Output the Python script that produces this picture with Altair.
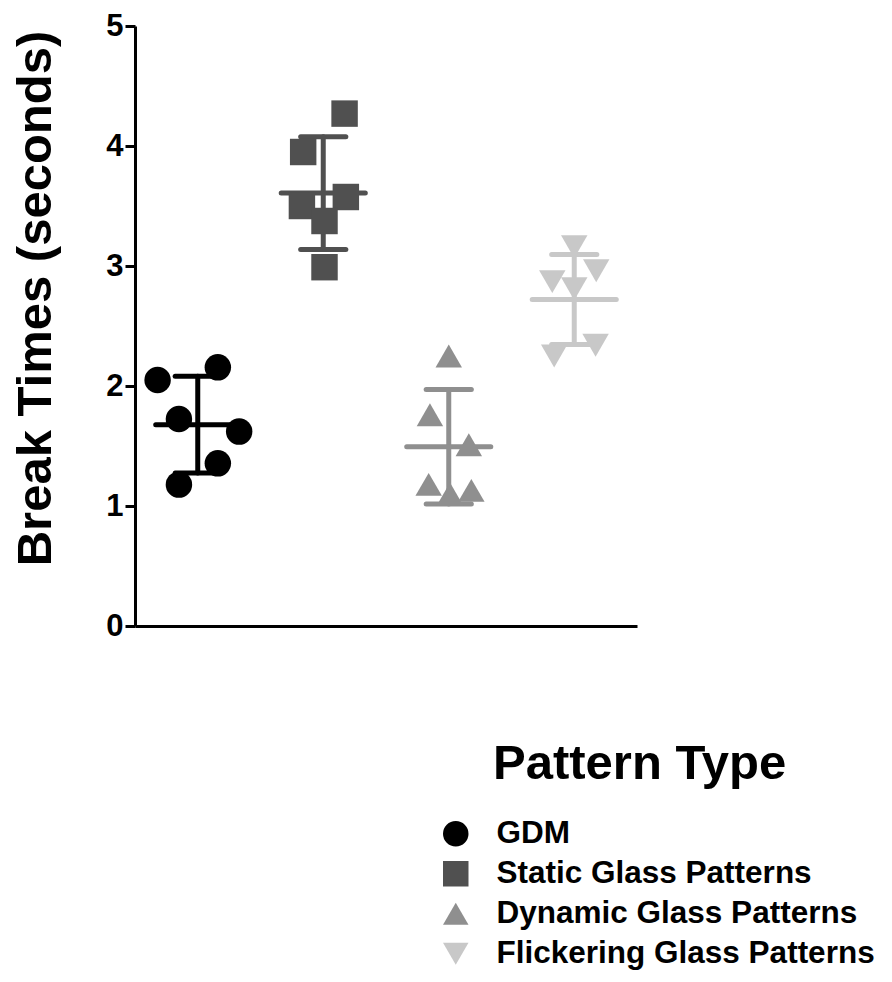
import altair as alt
import pandas as pd

groups = ["GDM", "Static Glass Patterns", "Dynamic Glass Patterns", "Flickering Glass Patterns"]
colors = ["#000000", "#505050", "#8f8f8f", "#c8c8c8"]
shapes = ["circle", "square", "triangle-up", "triangle-down"]

gdm_vals = [2.05, 2.156, 1.725, 1.62, 1.356, 1.178]
gdm_jit = [-0.32, 0.16, -0.15, 0.33, 0.16, -0.15]
static_vals = [4.27, 3.95, 3.5, 3.575, 3.375, 2.99]
static_jit = [0.17, -0.16, -0.17, 0.18, 0.01, 0.01]
dynamic_vals = [2.25, 1.76, 1.51, 1.18, 1.10, 1.13]
dynamic_jit = [0.0, -0.15, 0.16, -0.16, 0.01, 0.18]
flicker_vals = [3.16, 2.96, 2.87, 2.81, 2.34, 2.25]
flicker_jit = [0.0, 0.175, -0.175, 0.0, 0.17, -0.16]

means = [1.678, 3.608, 1.494, 2.72]
sds = [0.403, 0.47, 0.477, 0.375]
y_ticks = [0, 1, 2, 3, 4, 5]

rows = []
for gi, (vals, jit) in enumerate([(gdm_vals, gdm_jit), (static_vals, static_jit),
                                   (dynamic_vals, dynamic_jit), (flicker_vals, flicker_jit)]):
    for v, j in zip(vals, jit):
        rows.append({"group": groups[gi], "idx": gi, "value": v, "jit": j})
pts = pd.DataFrame(rows)

summ = pd.DataFrame({"group": groups, "idx": list(range(4)), "mean": means, "sd": sds})

FONT = "Liberation Sans"
xscale = alt.Scale(domain=[0, 4], nice=False, zero=False)
yscale = alt.Scale(domain=[0, 5], nice=False)
cscale = alt.Scale(domain=groups, range=colors)
sscale = alt.Scale(domain=groups, range=shapes)

xaxis = alt.Axis(labels=False, ticks=False, grid=False, title=None)
yaxis = alt.Axis(values=y_ticks, format="d", grid=False, title="Break Times (seconds)",
                 titleX=-100, titleY=272, titleAngle=270, titleBaseline="middle", titleAlign="center")

legend = alt.Legend(title=None, orient="none", legendX=305, legendY=792, padding=0,
                    labelFont=FONT, labelFontSize=31.5, labelFontWeight="bold", labelColor="black",
                    symbolSize=650, symbolStrokeWidth=0, labelOffset=25, rowPadding=7,
                    symbolOpacity=1, labelLimit=500)

base = alt.Chart(summ).transform_calculate(
    c="datum.idx + 0.5", lo="datum.mean - datum.sd", hi="datum.mean + datum.sd",
    ml="datum.idx + 0.5 - 0.335", mr="datum.idx + 0.5 + 0.335",
    cl="datum.idx + 0.5 - 0.18", cr="datum.idx + 0.5 + 0.18",
)
col = alt.Color("group:N", scale=cscale, legend=legend, sort=groups)

vline = base.mark_rule(strokeWidth=5, strokeCap="round").encode(
    x=alt.X("c:Q", scale=xscale, axis=xaxis),
    y=alt.Y("lo:Q", scale=yscale, axis=yaxis), y2="hi:Q", color=col)
cap_top = base.mark_rule(strokeWidth=5, strokeCap="round").encode(
    x=alt.X("cl:Q", scale=xscale, axis=xaxis), x2="cr:Q",
    y=alt.Y("hi:Q", scale=yscale, axis=yaxis), color=col)
cap_bot = base.mark_rule(strokeWidth=5, strokeCap="round").encode(
    x=alt.X("cl:Q", scale=xscale, axis=xaxis), x2="cr:Q",
    y=alt.Y("lo:Q", scale=yscale, axis=yaxis), color=col)
mline = base.mark_rule(strokeWidth=5, strokeCap="round").encode(
    x=alt.X("ml:Q", scale=xscale, axis=xaxis), x2="mr:Q",
    y=alt.Y("mean:Q", scale=yscale, axis=yaxis), color=col)

points = alt.Chart(pts).transform_calculate(px="datum.idx + 0.5 + datum.jit").mark_point(
    filled=True, opacity=1, size=700).encode(
    x=alt.X("px:Q", scale=xscale, axis=xaxis),
    y=alt.Y("value:Q", scale=yscale, axis=yaxis),
    color=col,
    shape=alt.Shape("group:N", scale=sscale, legend=legend, sort=groups),
)

title_txt = alt.Chart(pd.DataFrame({"t": ["Pattern Type"]})).mark_text(
    font=FONT, fontSize=49, fontWeight="bold", color="black", align="left", baseline="alphabetic"
).encode(x=alt.value(358), y=alt.value(753), text="t:N")

chart = alt.layer(vline, cap_top, cap_bot, mline, points, title_txt).properties(
    width=502, height=600,
    autosize=alt.AutoSizeParams(type="none"),
    padding={"left": 127, "top": 18, "right": 247, "bottom": 348},
    background="white",
).configure_view(stroke=None).configure_axis(
    domainColor="black", domainWidth=3, tickColor="black", tickWidth=3, tickSize=10,
    labelFont=FONT, labelFontSize=31, labelFontWeight="bold", labelColor="black", labelPadding=2,
    titleFont=FONT, titleFontSize=49, titleFontWeight="bold", titleColor="black",
)

chart.save("out.html", embed_options={"renderer": "svg", "actions": False})
